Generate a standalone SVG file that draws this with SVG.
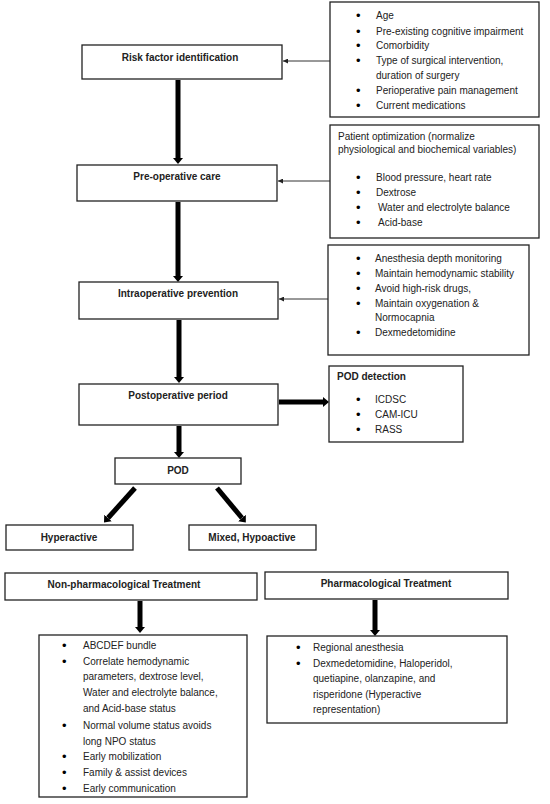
<svg xmlns="http://www.w3.org/2000/svg" width="550" height="804" viewBox="0 0 550 804">
<defs>
<style>
.box{fill:#fff;stroke:#222;stroke-width:1.3}
text{font-family:"Liberation Sans",Arial,sans-serif;font-size:10px;fill:#222}
.b{font-weight:bold}
.c{text-anchor:middle}
.u{font-size:13px;fill:#000}
.thick{stroke:#000;stroke-width:5;fill:none}
.thin{stroke:#333;stroke-width:1;fill:none}
</style>
<marker id="ah" viewBox="0 0 6 10" refX="0" refY="5" markerWidth="6" markerHeight="10" markerUnits="userSpaceOnUse" orient="auto"><path d="M0,0 L6,5 L0,10 z" fill="#000"/></marker>
<marker id="at" viewBox="0 0 5 5" refX="5" refY="2.5" markerWidth="5" markerHeight="5" markerUnits="userSpaceOnUse" orient="auto"><path d="M0,0 L5,2.5 L0,5 z" fill="#222"/></marker>
</defs>
<rect width="550" height="804" fill="#fff"/>
<g id="connectors">
<line class="thick" x1="178" y1="80" x2="178" y2="158" marker-end="url(#ah)"/>
<line class="thick" x1="178" y1="202" x2="178" y2="276" marker-end="url(#ah)"/>
<line class="thick" x1="179" y1="320" x2="179" y2="377" marker-end="url(#ah)"/>
<line class="thick" x1="179" y1="426" x2="179" y2="452" marker-end="url(#ah)"/>
<line class="thick" x1="279" y1="402" x2="323" y2="402" marker-end="url(#ah)"/>
<line class="thick" x1="135" y1="488" x2="108" y2="518" marker-end="url(#ah)"/>
<line class="thick" x1="217" y1="488" x2="242" y2="518" marker-end="url(#ah)"/>
<line class="thick" x1="140" y1="601" x2="140" y2="627" marker-end="url(#ah)"/>
<line class="thick" x1="375" y1="600" x2="375" y2="630" marker-end="url(#ah)"/>
<line class="thin" x1="330" y1="61" x2="283" y2="61" marker-end="url(#at)"/>
<line class="thin" x1="330" y1="181" x2="278" y2="181" marker-end="url(#at)"/>
<line class="thin" x1="328" y1="299" x2="279" y2="299" marker-end="url(#at)"/>
</g>
<g id="risk">
<rect class="box" x="82" y="45" width="200" height="34"/>
<text class="b c" x="180" y="61">Risk factor identification</text>
</g>
<g id="riskfactors">
<rect class="box" x="330" y="2" width="209" height="115"/>
<text class="u" x="356" y="20">•</text><text x="376" y="19">Age</text>
<text class="u" x="356" y="36">•</text><text x="376" y="35">Pre-existing cognitive impairment</text>
<text class="u" x="356" y="50">•</text><text x="376" y="49">Comorbidity</text>
<text class="u" x="356" y="65">•</text><text x="376" y="64">Type of surgical intervention,</text>
<text x="376" y="79">duration of surgery</text>
<text class="u" x="356" y="95">•</text><text x="376" y="94">Perioperative pain management</text>
<text class="u" x="356" y="110">•</text><text x="376" y="109">Current medications</text>
</g>
<g id="preop">
<rect class="box" x="77" y="165" width="200" height="36"/>
<text class="b c" x="177" y="180">Pre-operative care</text>
</g>
<g id="optimization">
<rect class="box" x="330" y="125" width="209" height="113"/>
<text x="338" y="140">Patient optimization (normalize</text>
<text x="338" y="153">physiological and biochemical variables)</text>
<text class="u" x="356" y="182">•</text><text x="376" y="181">Blood pressure, heart rate</text>
<text class="u" x="356" y="197">•</text><text x="376" y="196">Dextrose</text>
<text class="u" x="356" y="212">•</text><text x="378" y="211">Water and electrolyte balance</text>
<text class="u" x="356" y="227">•</text><text x="378" y="226">Acid-base</text>
</g>
<g id="intraop">
<rect class="box" x="79" y="282" width="199" height="37"/>
<text class="b c" x="178" y="297">Intraoperative prevention</text>
</g>
<g id="intraitems">
<rect class="box" x="328" y="245" width="201" height="110"/>
<text class="u" x="356" y="263">•</text><text x="375" y="262">Anesthesia depth monitoring</text>
<text class="u" x="356" y="278">•</text><text x="375" y="277">Maintain hemodynamic stability</text>
<text class="u" x="356" y="293">•</text><text x="375" y="292">Avoid high-risk drugs,</text>
<text class="u" x="356" y="308">•</text><text x="375" y="307">Maintain oxygenation &amp;</text>
<text x="375" y="321">Normocapnia</text>
<text class="u" x="356" y="337">•</text><text x="375" y="336">Dexmedetomidine</text>
</g>
<g id="postop">
<rect class="box" x="79" y="384" width="199" height="41"/>
<text class="b c" x="178" y="399">Postoperative period</text>
</g>
<g id="detection">
<rect class="box" x="329" y="366" width="134" height="76"/>
<text class="b" x="337" y="380">POD detection</text>
<text class="u" x="356" y="404">•</text><text x="375" y="403">ICDSC</text>
<text class="u" x="356" y="419">•</text><text x="375" y="418">CAM-ICU</text>
<text class="u" x="356" y="434">•</text><text x="375" y="433">RASS</text>
</g>
<g id="pod">
<rect class="box" x="115" y="458" width="126" height="26"/>
<text class="b c" x="178" y="474">POD</text>
</g>
<g id="hyperactive">
<rect class="box" x="6" y="525" width="127" height="25"/>
<text class="b c" x="69" y="541">Hyperactive</text>
</g>
<g id="hypoactive">
<rect class="box" x="189" y="525" width="127" height="25"/>
<text class="b c" x="252" y="541">Mixed, Hypoactive</text>
</g>
<g id="nonpharm">
<rect class="box" x="5" y="573" width="252" height="27"/>
<text class="b c" x="124" y="588">Non-pharmacological Treatment</text>
</g>
<g id="nonpharmitems">
<rect class="box" x="39" y="635" width="208" height="162"/>
<text class="u" x="62" y="650">•</text><text x="83" y="649">ABCDEF bundle</text>
<text class="u" x="62" y="666">•</text><text x="83" y="665">Correlate hemodynamic</text>
<text x="83" y="680">parameters, dextrose level,</text>
<text x="83" y="696">Water and electrolyte balance,</text>
<text x="83" y="712">and Acid-base status</text>
<text class="u" x="62" y="730">•</text><text x="83" y="729">Normal volume status avoids</text>
<text x="83" y="745">long NPO status</text>
<text class="u" x="62" y="761">•</text><text x="83" y="760">Early mobilization</text>
<text class="u" x="62" y="777">•</text><text x="83" y="776">Family &amp; assist devices</text>
<text class="u" x="62" y="793">•</text><text x="83" y="792">Early communication</text>
</g>
<g id="pharm">
<rect class="box" x="265" y="572" width="243" height="27"/>
<text class="b c" x="386" y="587">Pharmacological Treatment</text>
</g>
<g id="pharmitems">
<rect class="box" x="267" y="636" width="240" height="87"/>
<text class="u" x="296" y="652">•</text><text x="313" y="651">Regional anesthesia</text>
<text class="u" x="296" y="668">•</text><text x="313" y="667">Dexmedetomidine, Haloperidol,</text>
<text x="313" y="682">quetiapine, olanzapine, and</text>
<text x="313" y="698">risperidone (Hyperactive</text>
<text x="313" y="713">representation)</text>
</g>
</svg>
